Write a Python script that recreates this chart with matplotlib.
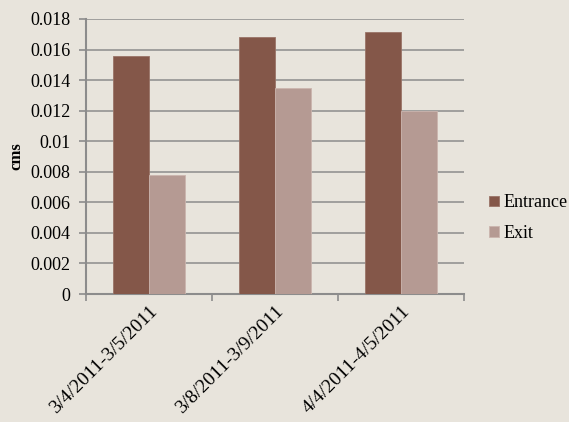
import matplotlib.pyplot as plt
import numpy as np

periods = ["3/4/2011-3/5/2011", "3/8/2011-3/9/2011", "4/4/2011-4/5/2011"]
entrance = [0.01557, 0.01685, 0.01714]
exit_vals = [0.0078, 0.01346, 0.0120]

bg = "#E8E4DC"
plt.rcParams["font.family"] = ["Liberation Serif", "DejaVu Serif"]

fig = plt.figure(figsize=(5.69, 4.22), dpi=100, facecolor=bg)
ax = fig.add_axes([0.151, 0.3033, 0.6645, 0.6517], facecolor=bg)

x = np.arange(len(periods))
w = 0.286
ax.bar(x - w / 2, entrance, w, color="#845749", edgecolor="#9a7468", linewidth=0.6,
       label="Entrance", zorder=3)
ax.bar(x + w / 2, exit_vals, w, color="#B59A93", edgecolor="#cbb5ae", linewidth=0.6,
       label="Exit", zorder=3)

ax.set_xlim(-0.5, len(periods) - 0.5)
ax.set_ylim(0, 0.018)
yt = np.arange(0, 0.0181, 0.002)
ax.set_yticks(yt)
ax.set_yticklabels(["0", "0.002", "0.004", "0.006", "0.008", "0.01", "0.012",
                    "0.014", "0.016", "0.018"], fontsize=13)
ax.yaxis.grid(True, color="#8c8c8c", linewidth=1.1, zorder=0)
ax.set_axisbelow(True)

# ticks between categories, labels at the centres
ax.set_xticks(np.arange(-0.5, len(periods), 1.0))
ax.set_xticklabels([])
ax.set_xticks(x, minor=True)
ax.set_xticklabels(periods, minor=True, rotation=45, ha="right",
                   rotation_mode="anchor", fontsize=14)
ax.tick_params(axis="x", which="minor", length=0, pad=6)
ax.tick_params(axis="x", which="major", length=5, color="#8c8c8c", width=1.2)
ax.tick_params(axis="y", length=5, color="#8c8c8c", width=1.2, pad=6)

for s in ["top", "right"]:
    ax.spines[s].set_visible(False)
for s in ["left", "bottom"]:
    ax.spines[s].set_color("#8c8c8c")
    ax.spines[s].set_linewidth(1.5)

ax.set_ylabel("cms", fontsize=12, fontweight="bold", labelpad=4)

ax.legend(loc="center left", bbox_to_anchor=(1.065, 0.276), frameon=False,
          fontsize=13, handlelength=0.55, handleheight=0.55, handletextpad=0.25,
          labelspacing=0.75, borderaxespad=0, borderpad=0)

fig.savefig("out.png", dpi=100, facecolor=bg)
